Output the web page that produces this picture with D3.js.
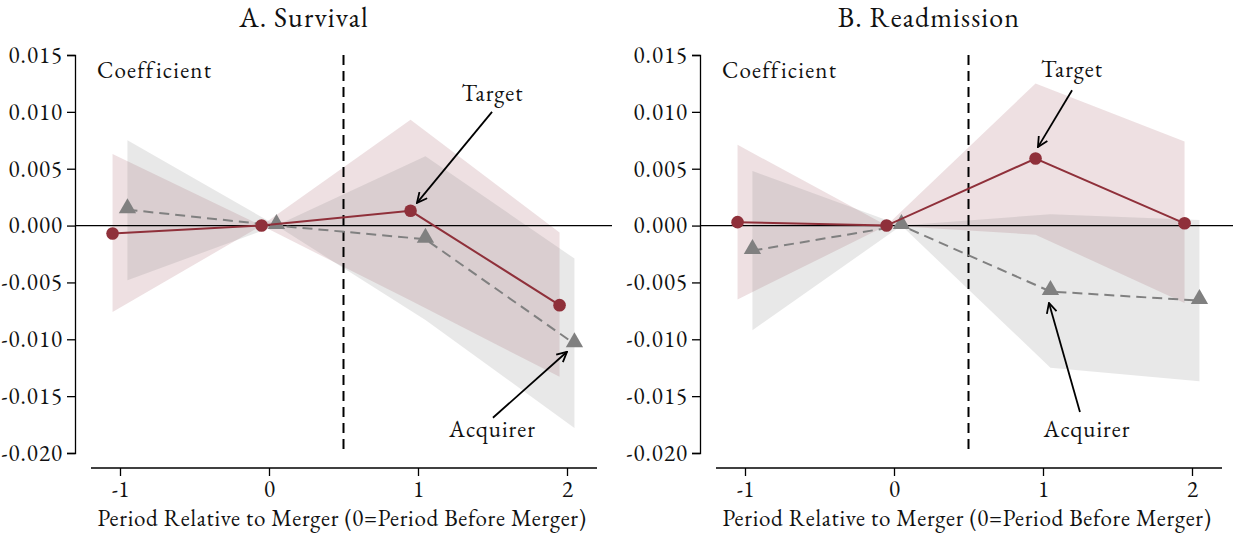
<!DOCTYPE html>
<html>
<head>
<meta charset="utf-8">
<script src="https://cdn.jsdelivr.net/npm/d3@7"></script>
<style>
  html, body { margin: 0; padding: 0; background: #fff; }
  svg { display: block; }
</style>
</head>
<body>
<svg id="chart" width="1233" height="535"></svg>
<script>
// Event-study coefficients by period relative to the merger
const periods = [-1, 0, 1, 2];
const xTicks = [-1, 0, 1, 2];
const yTicks = [0.015, 0.010, 0.005, 0.000, -0.005, -0.010, -0.015, -0.020];

// A. Survival
const survTarget    = [-0.0007, 0, 0.0013, -0.0070];
const survTargetLo  = [-0.0076, 0, -0.0066, -0.0133];
const survTargetHi  = [0.0063, 0, 0.0093, -0.0006];
const survAcq       = [0.0014, 0, -0.0012, -0.0104];
const survAcqLo     = [-0.0048, 0, -0.0083, -0.0178];
const survAcqHi     = [0.0075, 0, 0.0061, -0.0029];

// B. Readmission
const readTarget    = [0.0003, 0, 0.0059, 0.0002];
const readTargetLo  = [-0.0065, 0, -0.0008, -0.0068];
const readTargetHi  = [0.0071, 0, 0.0125, 0.0074];
const readAcq       = [-0.0022, 0, -0.0058, -0.0066];
const readAcqLo     = [-0.0092, 0, -0.0125, -0.0137];
const readAcqHi     = [0.0048, 0, 0.0010, 0.0005];

const RED = "#8f303a";
const GRAY = "#808080";
const FONT = '"EB Garamond", "Liberation Serif", serif';

const panels = [
  {
    title: "A. Survival", left: 0,
    target: survTarget, targetLo: survTargetLo, targetHi: survTargetHi,
    acq: survAcq, acqLo: survAcqLo, acqHi: survAcqHi,
    notes: [
      { label: "Target",   tx: 1.50, ty: 0.01096, from: [1.497, 0.0100], to: [0.993, 0.0020] },
      { label: "Acquirer", tx: 1.50, ty: -0.01859, from: [1.503, -0.0169], to: [2.0, -0.0111] }
    ]
  },
  {
    title: "B. Readmission", left: 625,
    target: readTarget, targetLo: readTargetLo, targetHi: readTargetHi,
    acq: readAcq, acqLo: readAcqLo, acqHi: readAcqHi,
    notes: [
      { label: "Target",   tx: 1.195, ty: 0.01307, from: [1.195, 0.0119], to: [0.966, 0.0069] },
      { label: "Acquirer", tx: 1.295, ty: -0.01859, from: [1.248, -0.0164], to: [1.040, -0.0068] }
    ]
  }
];

const svg = d3.select("#chart");

svg.append("defs").append("marker")
  .attr("id", "arrowhead")
  .attr("viewBox", "0 0 12 12")
  .attr("refX", 11).attr("refY", 6)
  .attr("markerWidth", 12).attr("markerHeight", 12)
  .attr("markerUnits", "userSpaceOnUse")
  .attr("orient", "auto")
  .append("path")
  .attr("d", "M1,1 L11,6 L1,11")
  .attr("fill", "none")
  .attr("stroke", "#000")
  .attr("stroke-width", 1.8);

function styleText(sel, size, spacing) {
  return sel.style("font-family", FONT)
    .style("font-size", size + "px")
    .style("letter-spacing", (spacing == null ? 1 : spacing) + "px")
    .style("fill", "#111");
}

panels.forEach(p => {
  const g = svg.append("g").attr("transform", `translate(${p.left},0)`);

  const x = d3.scaleLinear().domain([-1, 2]).range([120, 567]);
  const y = d3.scaleLinear().domain([-0.020, 0.015]).range([453, 55]);
  const off = 0.05;

  // title
  styleText(g.append("text")
    .attr("x", 304).attr("y", 27)
    .attr("text-anchor", "middle"), 28, 1.1)
    .text(p.title);

  // confidence bands
  const area = d3.area()
    .x(d => x(d.x)).y0(d => y(d.lo)).y1(d => y(d.hi));
  const tBand = periods.map((v, i) => ({ x: v - off, lo: p.targetLo[i], hi: p.targetHi[i] }));
  const aBand = periods.map((v, i) => ({ x: v + off, lo: p.acqLo[i], hi: p.acqHi[i] }));
  g.append("path").datum(tBand).attr("d", area)
    .attr("fill", RED).attr("fill-opacity", 0.15);
  g.append("path").datum(aBand).attr("d", area)
    .attr("fill", GRAY).attr("fill-opacity", 0.18);

  // y axis
  const yAxis = d3.axisLeft(y).tickValues(yTicks).tickSize(8).tickPadding(4)
    .tickFormat(d => d3.format(".3f")(d).replace("−", "-"));
  const ya = g.append("g").attr("transform", "translate(75,0)").call(yAxis);
  ya.select(".domain").attr("stroke", "#000").attr("stroke-width", 1.3);
  ya.selectAll(".tick line").attr("stroke", "#000").attr("stroke-width", 1.3);
  styleText(ya.selectAll(".tick text"), 23, 1);

  // x axis
  const xAxis = d3.axisBottom(x).tickValues(xTicks).tickSize(8).tickPadding(5)
    .tickFormat(d => d < 0 ? "-" + Math.abs(d) : String(d));
  const xa = g.append("g").attr("transform", "translate(0,468)").call(xAxis);
  xa.select(".domain").remove();
  xa.append("line").attr("x1", 91).attr("x2", 597).attr("y1", 0).attr("y2", 0)
    .attr("stroke", "#000").attr("stroke-width", 1.3);
  xa.selectAll(".tick line").attr("stroke", "#000").attr("stroke-width", 1.3);
  styleText(xa.selectAll(".tick text"), 23, 0);

  styleText(g.append("text")
    .attr("x", 342).attr("y", 526)
    .attr("text-anchor", "middle"), 23, 0.7)
    .text("Period Relative to Merger (0=Period Before Merger)");

  // "Coefficient" label
  styleText(g.append("text")
    .attr("x", 97).attr("y", 78), 23, 1.2)
    .text("Coefficient");

  // zero line
  g.append("line")
    .attr("x1", 75).attr("x2", 612)
    .attr("y1", y(0)).attr("y2", y(0))
    .attr("stroke", "#000").attr("stroke-width", 1.3);

  // merger timing line
  g.append("line")
    .attr("x1", x(0.5)).attr("x2", x(0.5))
    .attr("y1", y(0.015)).attr("y2", y(-0.020))
    .attr("stroke", "#000").attr("stroke-width", 2)
    .attr("stroke-dasharray", "10,6");

  const line = d3.line().x(d => x(d.x)).y(d => y(d.v));
  const aPts = periods.map((v, i) => ({ x: v + off, v: p.acq[i] }));
  const tPts = periods.map((v, i) => ({ x: v - off, v: p.target[i] }));

  // acquirer series (dashed, triangles)
  g.append("path").datum(aPts).attr("d", line)
    .attr("fill", "none").attr("stroke", GRAY).attr("stroke-width", 2)
    .attr("stroke-dasharray", "10,6");
  g.selectAll(".tri").data(aPts).enter().append("path")
    .attr("d", d3.symbol().type(d3.symbolTriangle).size(130))
    .attr("transform", d => `translate(${x(d.x)},${y(d.v) - 1.5})`)
    .attr("fill", GRAY);

  // target series (solid, circles)
  g.append("path").datum(tPts).attr("d", line)
    .attr("fill", "none").attr("stroke", RED).attr("stroke-width", 2);
  g.selectAll(".dot").data(tPts).enter().append("circle")
    .attr("cx", d => x(d.x)).attr("cy", d => y(d.v)).attr("r", 6.3)
    .attr("fill", RED);

  // annotations
  p.notes.forEach(n => {
    styleText(g.append("text")
      .attr("x", x(n.tx)).attr("y", y(n.ty))
      .attr("text-anchor", "middle"), 23, 1)
      .text(n.label);
    g.append("line")
      .attr("x1", x(n.from[0])).attr("y1", y(n.from[1]))
      .attr("x2", x(n.to[0])).attr("y2", y(n.to[1]))
      .attr("stroke", "#000").attr("stroke-width", 1.8)
      .attr("marker-end", "url(#arrowhead)");
  });
});
</script>
</body>
</html>
